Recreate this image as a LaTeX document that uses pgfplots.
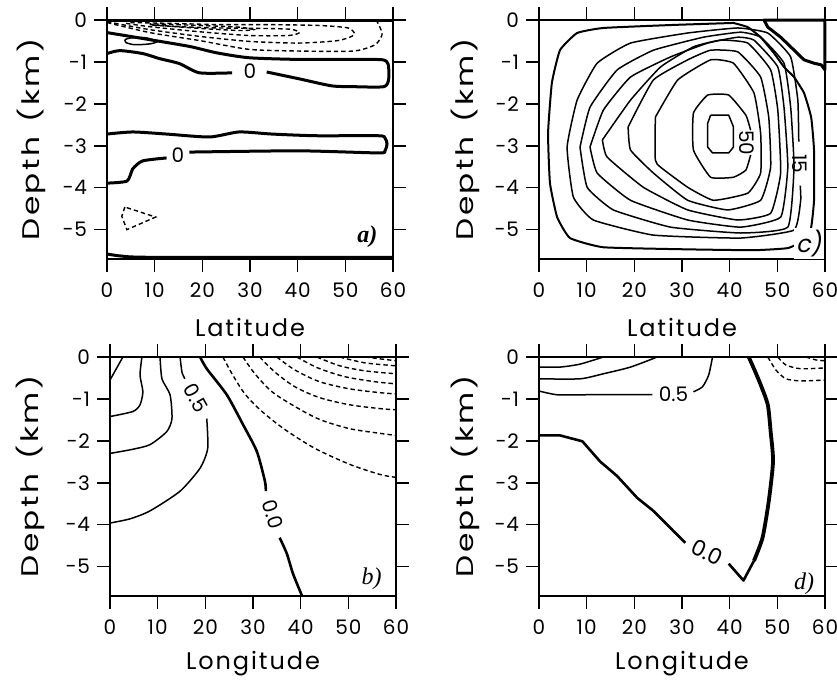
\documentclass[border=0pt]{standalone}
\usepackage{fontspec}
\setmainfont{Poppins}
\newfontfamily\tickfont[LetterSpace=5]{Poppins}
\newfontfamily\labfont[LetterSpace=8]{Poppins}
\newfontfamily\ylabfont[FakeStretch=1.3, LetterSpace=10]{Poppins}
\newfontfamily\cfont{Poppins}
\newfontfamily\serifit{Liberation Serif}
\newfontfamily\slsans[FakeSlant=0.2]{Poppins}
\usepackage{pgfplots}
\pgfplotsset{compat=1.18}

\pgfplotsset{
  panel/.style={
    scale only axis, width=143pt, height=119.5pt,
    xmin=0, xmax=60, ymin=-5.7, ymax=0,
    xtick={0,10,...,60}, ytick={-5,-4,-3,-2,-1,0},
    yticklabels={−5,−4,−3,−2,−1,0},
    ticklabel pos=left, tick pos=both,
    tick align=outside, major tick length=6.5pt,
    every tick/.style={black, line width=0.75pt},
    axis line style={line width=0.7pt},
    /pgf/number format/assume math mode=true,
    tick label style={font=\tickfont\fontsize{10}{12}\selectfont},
    xticklabel style={yshift=-2pt},
    xlabel style={font=\labfont\fontsize{12}{14}\selectfont,
      at={([yshift=-34pt]axis description cs:0.5,0)}, anchor=center},
    ylabel style={font=\ylabfont\fontsize{12}{14}\selectfont,
      at={([xshift=-38pt]axis description cs:0,0.5)}, anchor=center},
    clip=false,
  },
  cl/.style={black, line width=0.75pt, no marks, line join=round},
  ck/.style={black, line width=1.5pt, no marks, line join=round},
  cd/.style={black, line width=0.7pt, no marks, dash pattern=on 2.2pt off 1.5pt},
}
\newcommand{\clab}{\cfont\fontsize{10}{12}\selectfont}
\newcommand{\dlab}{Depth\hspace{0.6em}(km)}

\begin{document}
\begin{tikzpicture}
\useasboundingbox (0,0) rectangle (418.5pt,-342pt);

% ---------- a) ----------
\begin{axis}[panel, at={(53.5pt,-129.5pt)}, anchor=south west,
  xlabel={Latitude}, ylabel={\dlab}]
\addplot[ck] coordinates {(0,-0.01) (60,-0.01)};
\addplot[ck, smooth, tension=0.4] coordinates {(0,-0.30) (4.8,-0.39) (9,-0.47) (17.3,-0.63) (22.9,-0.78) (29.8,-0.90) (40.2,-0.94) (52.7,-0.94) (57.9,-0.95) (59,-1.06) (59.1,-1.40) (58.1,-1.59) (51.7,-1.59) (47.1,-1.57) (40.2,-1.40) (33.5,-1.24)};
\addplot[ck, smooth, tension=0.4] coordinates {(26.25,-1.26) (19.4,-1.26) (15.2,-1.04) (11,-0.92) (7.5,-0.80) (2.7,-0.73) (0,-0.80)};
\addplot[cl, smooth, tension=0.4] coordinates {(3.75,-0.47) (4.8,-0.43) (7.9,-0.42) (10.6,-0.51) (8.96,-0.57) (5.8,-0.59) (4,-0.54) (3.75,-0.47)};
\addplot[cd, smooth, tension=0.4] coordinates {(0,-0.06) (8.96,-0.30) (19.4,-0.49) (29.8,-0.70) (40.2,-0.74) (51.7,-0.74) (56.25,-0.59) (57.7,-0.35) (57.1,-0.13) (56.5,-0.01)};
\addplot[cd, smooth, tension=0.4] coordinates {(0,-0.04) (8.96,-0.23) (19.4,-0.39) (29.8,-0.51) (40.2,-0.55) (48.5,-0.49) (51.9,-0.35) (50.6,-0.19) (44.4,-0.13) (34,-0.11) (23.5,-0.11) (13.1,-0.08) (4.8,-0.06)};
\addplot[cd, smooth, tension=0.4] coordinates {(4,-0.08) (8.96,-0.16) (19.4,-0.28) (29.8,-0.37) (38.1,-0.37) (40.4,-0.30) (38.5,-0.22) (31.9,-0.20) (23.5,-0.19) (15.2,-0.16) (8.96,-0.12)};
\addplot[cd, smooth, tension=0.4] coordinates {(8.96,-0.11) (19.4,-0.20) (27.7,-0.25) (30.8,-0.23) (27.7,-0.17) (19.4,-0.13) (8.96,-0.09)};
\addplot[ck, smooth, tension=0.4] coordinates {(0,-2.72) (5.4,-2.67) (12.5,-2.72) (21.5,-2.79) (27.7,-2.67) (34.6,-2.72) (43.75,-2.76) (56.9,-2.76) (58.3,-2.81) (58.75,-2.95) (58.3,-3.12) (56.9,-3.17) (40.2,-3.12) (17.3,-3.15)};
\addplot[ck, smooth, tension=0.4] coordinates {(12.5,-3.29) (7.5,-3.36) (5.4,-3.55) (4.2,-3.84) (0,-3.89)};
\addplot[cd] coordinates {(3.75,-4.46) (3.1,-4.68) (4.17,-5.0) (10.2,-4.70) (3.75,-4.46)};
\addplot[ck, smooth, tension=0.4] coordinates {(0,-5.58) (3,-5.63) (10,-5.66) (60,-5.66)};
\node[font=\clab] at (axis cs:30.0,-1.22) {0};
\node[font=\clab] at (axis cs:14.9,-3.22) {0};
\node[font=\serifit\itshape\bfseries\fontsize{12}{14}\selectfont] at (axis cs:54.6,-5.16) {a)};
\end{axis}

% ---------- c) ----------
\begin{axis}[panel, at={(269.5pt,-129.5pt)}, anchor=south west,
  xlabel={Latitude}, ylabel={\dlab}, ylabel style={at={([xshift=-37pt]axis description cs:0,0.5)}}]
\addplot[black, line width=1pt, no marks, line join=round, smooth, tension=0.25] coordinates {(40.8,-0.07) (27.6,-0.12) (13.5,-0.19) (8.0,-0.31) (4.4,-0.72) (2.7,-1.50) (1.9,-2.70) (2.3,-3.89) (3.8,-4.70) (6.5,-5.20) (13.5,-5.42) (31.2,-5.47) (45.1,-5.49) (52.2,-5.44) (55.6,-5.25) (57.1,-4.94) (57.7,-4.30) (57.7,-3.10) (57.1,-2.32) (55.6,-1.74) (53.5,-1.36) (51.4,-1.12) (49.3,-0.79) (46.5,-0.41) (43.8,-0.17) (40.8,-0.07)};
\addplot[cl, smooth, tension=0.25] coordinates {(54.8,-3.95) (54.9,-4.30) (53.5,-5.01) (42.3,-5.20) (24.0,-5.13) (11.4,-4.77) (7.2,-4.22) (5.9,-3.03) (8.0,-1.91) (12.2,-1.03) (19.2,-0.55) (31.2,-0.31) (41.7,-0.19) (48.0,-0.31) (52.8,-0.88) (54.3,-1.91) (54.5,-2.90)};
\addplot[cl, smooth, tension=0.25] coordinates {(8.6,-3.03) (10.7,-2.08) (16.4,-1.19) (24.0,-0.72) (34.5,-0.41) (42.3,-0.29) (46.5,-0.41) (51.4,-1.03) (52.8,-2.08) (53.5,-3.51) (52.2,-4.94) (42.3,-5.08) (27.6,-4.94) (15.6,-4.53) (10.1,-3.99) (8.6,-3.03)};
\addplot[cl, smooth, tension=0.25] coordinates {(10.7,-3.03) (13.5,-2.15) (19.2,-1.36) (27.6,-0.88) (35.4,-0.55) (41.7,-0.41) (45.1,-0.48) (50.1,-1.12) (51.4,-2.08) (52.2,-3.51) (50.7,-4.70) (42.3,-4.94) (31.2,-4.77) (19.2,-4.30) (12.2,-3.65) (10.7,-3.03)};
\addplot[cl, smooth, tension=0.25] coordinates {(13.3,-2.86) (19.2,-1.91) (25.5,-1.12) (32.4,-0.64) (38.1,-0.48) (43.8,-0.55) (48.6,-1.19) (50.1,-2.15) (50.7,-3.65) (48.6,-4.61) (41.7,-4.77) (31.2,-4.53) (21.9,-3.99) (14.3,-3.27) (13.3,-2.86)};
\addplot[cl, smooth, tension=0.25] coordinates {(18.7,-2.55) (24.0,-1.43) (31.2,-0.95) (36.0,-0.72) (41.7,-0.76) (46.5,-1.36) (48.2,-2.32) (48.6,-3.51) (46.5,-4.30) (39.6,-4.53) (31.2,-4.30) (24.0,-3.65) (19.2,-3.10) (18.7,-2.55)};
\addplot[cl, smooth, tension=0.25] coordinates {(24.4,-2.32) (29.1,-1.43) (36.0,-0.95) (40.8,-1.03) (45.1,-1.74) (46.5,-2.70) (46.5,-3.65) (43.8,-4.13) (36.6,-4.30) (31.2,-3.99) (25.5,-3.51) (24.4,-3.34) (24.4,-2.32)};
\addplot[cl, smooth, tension=0.25] coordinates {(44.4,-3.22) (43.4,-3.58) (40.8,-3.75) (36.0,-3.75) (32.4,-3.10) (32.4,-2.22) (35.4,-1.79) (39.8,-1.79) (43.4,-2.27) (44.4,-2.63)};
\addplot[cl] coordinates {(36.0,-2.27) (39.8,-2.27) (40.8,-2.55) (40.8,-3.03) (39.8,-3.17) (36.4,-3.17) (35.4,-3.03) (35.4,-2.46) (36.0,-2.27)};
\addplot[ck] coordinates {(60,-1.19) (60,0) (47.2,0) (48.0,-0.17) (50.7,-0.41) (52.8,-0.64) (55.6,-0.95) (57.7,-1.03) (59.2,-1.07) (60,-1.19)};
\node[font=\clab, rotate=-90] at (axis cs:43.6,-2.93) {50};
\node[font=\clab, rotate=-90] at (axis cs:54.7,-3.43) {15};
\node[font=\slsans\fontsize{12}{14}\selectfont, fill=white, inner sep=1pt] at (axis cs:56.6,-5.33) {c)};
\end{axis}

% ---------- b) ----------
\begin{axis}[panel, at={(55pt,-298pt)}, anchor=south west,
  xlabel={Longitude}, ylabel={\dlab}, ylabel style={at={([xshift=-40pt]axis description cs:0,0.5)}}]
\addplot[cl, smooth, tension=0.4] coordinates {(2.7,0) (0,-0.55)};
\addplot[cl, smooth, tension=0.4] coordinates {(6.7,0) (6.3,-0.43) (6.9,-0.83) (6.3,-1.14) (4.8,-1.30) (0,-1.42)};
\addplot[cl, smooth, tension=0.4] coordinates {(10.5,0) (10.9,-0.52) (12.6,-0.90) (13.0,-1.47) (11.9,-1.78) (8.4,-2.09) (4.8,-2.20) (0,-2.30)};
\addplot[cl, smooth, tension=0.4] coordinates {(14.7,0) (15.1,-0.36) (15.7,-0.52)};
\addplot[cl, smooth, tension=0.4] coordinates {(20.3,-1.47) (20.5,-2.18) (18.9,-2.65) (14.7,-3.20) (8.4,-3.67) (4.2,-3.86) (0,-3.96)};
\addplot[ck, line width=1.3pt, smooth, tension=0.4] coordinates {(18.9,0) (20.3,-0.28) (24.5,-0.90) (27.9,-1.61) (30.8,-2.25) (32.5,-2.96) (32.7,-3.20)};
\addplot[ck, line width=1.3pt, smooth, tension=0.4] coordinates {(35.6,-4.31) (37.1,-4.69) (38.4,-5.17) (40.3,-5.70)};
\addplot[cd, smooth, tension=0.5] coordinates {(23.7,0) (25.6,-0.40) (28.3,-0.88) (31.9,-1.30) (36.7,-1.73) (43.0,-2.18) (50.3,-2.56) (56.6,-2.80) (60,-2.87)};
\addplot[cd, smooth, tension=0.5] coordinates {(27.9,0) (30.4,-0.40) (34.0,-0.83) (38.8,-1.18) (44.0,-1.49) (50.3,-1.71) (56.6,-1.82) (60,-1.87)};
\addplot[cd, smooth, tension=0.5] coordinates {(31.4,0) (34.6,-0.36) (38.8,-0.71) (44.0,-0.97) (50.3,-1.14) (56.6,-1.23) (60,-1.26)};
\addplot[cd, smooth, tension=0.5] coordinates {(35.0,0) (38.8,-0.31) (44.0,-0.59) (50.3,-0.76) (56.6,-0.85) (60,-0.88)};
\addplot[cd, smooth, tension=0.5] coordinates {(39.2,0) (43.6,-0.26) (49.3,-0.47) (55.6,-0.59) (60,-0.64)};
\addplot[cd, smooth, tension=0.5] coordinates {(43.4,0) (48.2,-0.21) (53.5,-0.33) (60,-0.40)};
\addplot[cd, smooth, tension=0.5] coordinates {(48.2,0) (53.5,-0.14) (60,-0.21)};
\addplot[cd, smooth, tension=0.5] coordinates {(53.5,0) (60,-0.09)};
\node[font=\clab, rotate=-61, inner sep=0pt] at (axis cs:18.1,-0.98) {0.5};
\node[font=\clab, rotate=-73, inner sep=0pt] at (axis cs:34.2,-3.76) {0.0};
\node[font=\serifit\itshape\fontsize{12}{14}\selectfont] at (axis cs:54.9,-5.28) {b)};
\end{axis}

% ---------- d) ----------
\begin{axis}[panel, at={(269.5pt,-298pt)}, anchor=south west,
  xlabel={Longitude}, ylabel={\dlab}, ylabel style={at={([xshift=-37pt]axis description cs:0,0.5)}}]
\addplot[cl, smooth, tension=0.4] coordinates {(0,-0.24) (4.4,-0.24) (8.6,-0.17) (13.5,0)};
\addplot[cl, smooth, tension=0.4] coordinates {(0,-0.52) (8.6,-0.52) (13.5,-0.40) (19.2,-0.24) (24.8,0)};
\addplot[cl, smooth, tension=0.4] coordinates {(0,-0.81) (3.8,-0.90) (10.1,-0.90) (23.8,-0.90)};
\addplot[cl, smooth, tension=0.4] coordinates {(32.4,-0.83) (34.3,-0.71) (35.6,-0.43) (36.4,0)};
\addplot[ck, line width=1.3pt] coordinates {(0,-1.87) (4.4,-1.87) (9.1,-2.01) (12.8,-2.49) (16.4,-2.84) (20.6,-3.36) (24.0,-3.67) (28.2,-4.15) (30.7,-4.43)};
\addplot[ck, line width=1.3pt] coordinates {(39.8,-4.93) (42.9,-5.33) (45.1,-4.86)};
\addplot[ck, line width=1.9pt, smooth, tension=0.4] coordinates {(45.1,-4.86) (46.9,-4.31) (48.2,-3.44) (49.1,-2.49) (48.6,-1.78) (48.0,-1.14) (46.5,-0.66) (45.1,-0.28) (44.0,0)};
\addplot[cd, smooth, tension=0.4] coordinates {(48.0,0) (49.7,-0.31) (51.8,-0.52) (54.9,-0.57) (60,-0.55)};
\addplot[cd, smooth, tension=0.4] coordinates {(50.1,0) (51.8,-0.19) (54.9,-0.28) (60,-0.26)};
\addplot[cd, smooth, tension=0.4] coordinates {(56.0,0) (58.1,-0.07) (60,-0.09)};
\node[font=\clab] at (axis cs:28.2,-0.88) {0.5};
\node[font=\clab\fontsize{11}{13}\selectfont, rotate=-26, inner sep=0pt] at (axis cs:35.3,-4.66) {0.0};
\node[font=\serifit\itshape\fontsize{12}{14}\selectfont] at (axis cs:55.6,-5.40) {d)};
\end{axis}
\end{tikzpicture}
\end{document}
